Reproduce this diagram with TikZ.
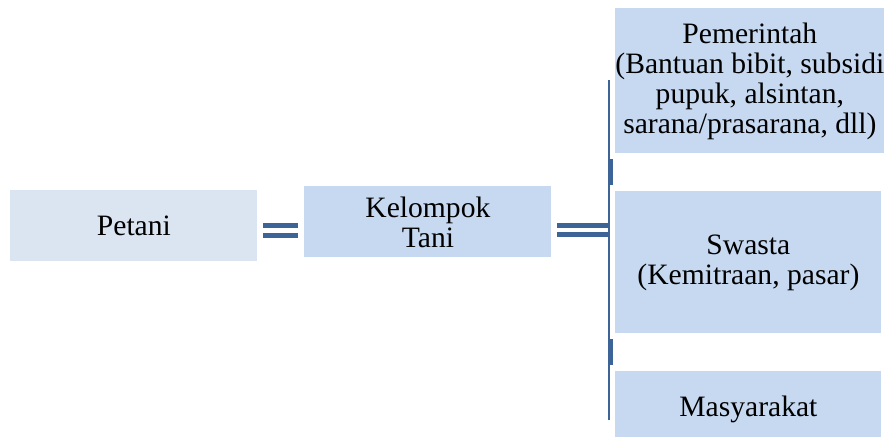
\documentclass[tikz,border=0pt]{standalone}
\usepackage{fontspec}
\setmainfont{Liberation Serif}
\newfontfamily\boxfont{Liberation Serif}
\usetikzlibrary{calc}
\definecolor{boxlight}{HTML}{DBE5F1}
\definecolor{boxblue}{HTML}{C6D9F1}
\definecolor{linkblue}{HTML}{3D6496}

\begin{document}
\begin{tikzpicture}[x=0.5pt,y=-0.5pt,
  box/.style={rectangle,anchor=north west,inner sep=0pt,align=center,
    font=\boxfont\fontsize{14.8}{15}\selectfont},
  bar/.style={draw=linkblue,line width=2.5pt},
  spine/.style={draw=linkblue,line width=1.4pt},
  tab/.style={draw=linkblue,line width=2.6pt}]
\clip (0,0) rectangle (888,436);
\node[box,fill=boxlight,minimum width=123.5pt,minimum height=35.5pt] (petani) at (10,190) {Petani};
\node[box,fill=boxblue,minimum width=123.5pt,minimum height=35.5pt] (kelompok) at (304,186) {Kelompok\\Tani};
\node[box,fill=boxblue,minimum width=133pt,minimum height=72.5pt] (pemerintah) at (615,8)
  {Pemerintah\\(Bantuan bibit, subsidi\\pupuk, alsintan,\\sarana/prasarana, dll)};
\node[box,fill=boxblue,minimum width=133pt,minimum height=71pt] (swasta) at (615,191)
  {Swasta\\(Kemitraan, pasar)};
\node[box,fill=boxblue,minimum width=133pt,minimum height=38pt] (masyarakat) at (615,371) {Masyarakat};
\coordinate (spinetop) at (609,80);
\coordinate (spinebot) at (609,420);
\foreach \s in {0,-5}
\draw[bar,shorten <=2.5pt,shorten >=3pt] ([yshift=\s pt]petani.east) -- ([yshift=\s pt]petani.east -| kelompok.west);
\foreach \s in {-2,-6.5}
\draw[bar,shorten <=2.5pt] ([yshift=\s pt]kelompok.east) -- ([yshift=\s pt]kelompok.east -| spinetop);
\draw[spine] (spinetop) -- (spinebot);
\draw[tab] ($(spinetop |- pemerintah.south)!0.5!(spinetop |- swasta.north)+(1.5,-13)$) -- ++(0,26);
\draw[tab] ($(spinetop |- swasta.south)!0.5!(spinetop |- masyarakat.north)+(1.5,-13)$) -- ++(0,26);
\end{tikzpicture}
\end{document}
